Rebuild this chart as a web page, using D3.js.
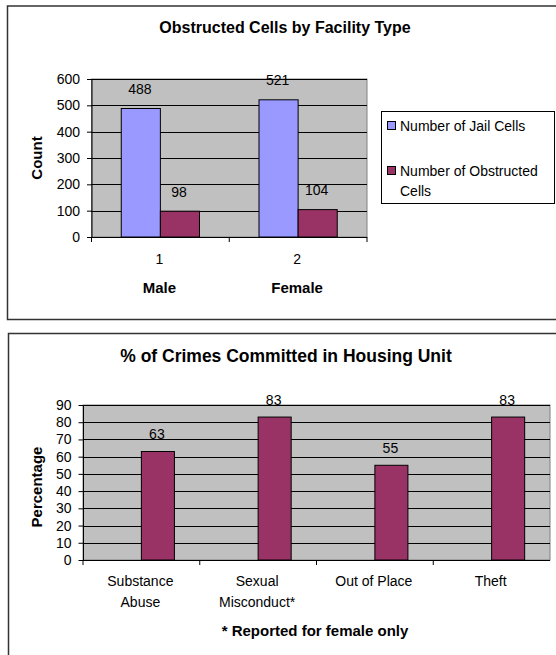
<!DOCTYPE html>
<head>
  <meta charset='utf-8'>
  <script src='https://d3js.org/d3.v7.min.js'></script>
  <style>
    body { margin: 0; background: #fff; }
    text { font-family: 'Liberation Sans', Arial, sans-serif; }
  </style>
</head>

<body>
  <script>

// top chart data
const facilities = ['1', '2'];
const facilityNames = ['Male', 'Female'];
const jailCells = [488, 521];
const obstructedCells = [98, 104];
const topSeries = ['Number of Jail Cells', 'Number of Obstructed Cells'];
const topTicks = [0, 100, 200, 300, 400, 500, 600];

// bottom chart data
const crimes = [['Substance', 'Abuse'], ['Sexual', 'Misconduct*'], ['Out of Place'], ['Theft']];
const crimePct = [63, 83, 55, 83];
const bottomTicks = [0, 10, 20, 30, 40, 50, 60, 70, 80, 90];

const blue = '#9999FF', maroon = '#993366', plotBg = '#C0C0C0';
const fs = 14;   // normal text size

const svg = d3.select('body').append('svg').attr('width', 556).attr('height', 655);

// panel frames
svg.append('rect').attr('x', 7.5).attr('y', 6).attr('width', 560).attr('height', 313.5)
  .attr('fill', 'none').attr('stroke', '#333').attr('stroke-width', 1.5);
svg.append('rect').attr('x', 8.5).attr('y', 333.5).attr('width', 560).attr('height', 340)
  .attr('fill', 'none').attr('stroke', '#333').attr('stroke-width', 1.5);

function plotFrame(g, x0, x1, y, ticks) {
  g.append('rect').attr('x', x0).attr('y', y.range()[1]).attr('width', x1 - x0)
    .attr('height', y.range()[0] - y.range()[1]).attr('fill', plotBg).attr('stroke', '#808080');
  g.selectAll('.grid').data(ticks.slice(1)).enter().append('line')
    .attr('x1', x0).attr('x2', x1).attr('y1', d => Math.round(y(d)) + .5).attr('y2', d => Math.round(y(d)) + .5)
    .attr('stroke', '#000');
  const ax = g.append('g').attr('transform', `translate(${x0 + .5},0)`)
    .call(d3.axisLeft(y).tickValues(ticks).tickSize(5).tickPadding(7));
  ax.select('.domain').attr('stroke', '#000').attr('d', `M0,${y.range()[1]}V${y.range()[0]}`);
  ax.selectAll('text').attr('font-size', fs).attr('fill', '#000')
    .style('font-family', "'Liberation Sans', Arial, sans-serif");
  ax.selectAll('.tick line').attr('stroke', '#000');
}

// ---------- top chart ----------
{
  const g = svg.append('g');
  const y = d3.scaleLinear().domain([0, 600]).range([237, 79]);
  const x = d3.scaleBand().domain(facilities).range([91.5, 367]);
  plotFrame(g, 91.5, 367, y, topTicks);

  const grp = facilities.map((f, i) => ({ f, vals: [jailCells[i], obstructedCells[i]] }));
  const bw = x.bandwidth() * 0.284;
  grp.forEach(d => {
    const cx = x(d.f) + x.bandwidth() / 2;
    d.vals.forEach((v, k) => {
      const bx = cx - bw + k * bw;
      g.append('rect').attr('x', bx).attr('y', y(v)).attr('width', bw).attr('height', y(0) - y(v))
        .attr('fill', k ? maroon : blue).attr('stroke', '#000');
      g.append('text').attr('x', bx + bw / 2 - 1).attr('y', y(v) - 14.5).attr('text-anchor', 'middle')
        .attr('font-size', fs).text(v);
    });
  });

  // x axis
  g.append('line').attr('x1', 91.5).attr('x2', 367).attr('y1', y(0) + .5).attr('y2', y(0) + .5).attr('stroke', '#000');
  [91.5, x('2'), 367].forEach(t => g.append('line').attr('x1', t).attr('x2', t)
    .attr('y1', y(0)).attr('y2', y(0) + 5).attr('stroke', '#000'));
  facilities.forEach((f, i) => {
    const cx = x(f) + x.bandwidth() / 2 - 1;
    g.append('text').attr('x', cx).attr('y', 264).attr('text-anchor', 'middle').attr('font-size', fs).text(f);
    g.append('text').attr('x', cx).attr('y', 293).attr('text-anchor', 'middle').attr('font-size', 15)
      .attr('font-weight', 'bold').text(facilityNames[i]);
  });

  g.append('text').attr('x', 285).attr('y', 33).attr('text-anchor', 'middle').attr('font-size', 16)
    .attr('font-weight', 'bold').text('Obstructed Cells by Facility Type');
  g.append('text').attr('transform', 'translate(42,158) rotate(-90)').attr('text-anchor', 'middle')
    .attr('font-size', 15).attr('font-weight', 'bold').text('Count');

  // legend
  g.append('rect').attr('x', 381.5).attr('y', 111.5).attr('width', 173).attr('height', 92)
    .attr('fill', '#fff').attr('stroke', '#000');
  const lg = g.selectAll('.lg').data(topSeries).enter().append('g')
    .attr('transform', (d, i) => `translate(387,${i ? 171 : 126})`);
  lg.append('rect').attr('x', .5).attr('y', -4.5).attr('width', 8).attr('height', 8)
    .attr('fill', (d, i) => i ? maroon : blue).attr('stroke', '#000');
  lg.append('text').attr('x', 13).attr('y', 5).attr('font-size', fs)
    .each(function (d) {
      const t = d3.select(this);
      const parts = d === 'Number of Obstructed Cells' ? ['Number of Obstructed', 'Cells'] : [d];
      parts.forEach((p, j) => t.append('tspan').attr('x', 13).attr('dy', j ? 20 : 0).text(p));
    });
}

// ---------- bottom chart ----------
{
  const g = svg.append('g');
  const y = d3.scaleLinear().domain([0, 90]).range([560, 405]);
  const x = d3.scaleBand().domain(crimes.map(c => c.join(' '))).range([83, 550]);
  plotFrame(g, 83, 550, y, bottomTicks);

  const bw = x.bandwidth() * 0.283;
  crimes.forEach((c, i) => {
    const cx = x(c.join(' ')) + x.bandwidth() / 2;
    const v = crimePct[i];
    g.append('rect').attr('x', cx).attr('y', y(v)).attr('width', bw).attr('height', y(0) - y(v))
      .attr('fill', maroon).attr('stroke', '#000');
    g.append('text').attr('x', cx + bw / 2 - 1).attr('y', y(v) - 12.5).attr('text-anchor', 'middle')
      .attr('font-size', fs).text(v);
    const t = g.append('text').attr('text-anchor', 'middle').attr('font-size', fs);
    c.forEach((p, j) => t.append('tspan').attr('x', cx - 1).attr('y', 586 + j * 21).text(p));
  });

  g.append('line').attr('x1', 83).attr('x2', 550).attr('y1', y(0) + .5).attr('y2', y(0) + .5).attr('stroke', '#000');
  crimes.forEach((c, i) => {
    const t = i === 0 ? 83 : x(c.join(' '));
    g.append('line').attr('x1', t).attr('x2', t).attr('y1', y(0)).attr('y2', y(0) + 5).attr('stroke', '#000');
  });

  g.append('text').attr('x', 286).attr('y', 362).attr('text-anchor', 'middle').attr('font-size', 17.5)
    .attr('font-weight', 'bold').text('% of Crimes Committed in Housing Unit');
  g.append('text').attr('transform', 'translate(42,487) rotate(-90)').attr('text-anchor', 'middle')
    .attr('font-size', 15).attr('font-weight', 'bold').text('Percentage');
  g.append('text').attr('x', 315).attr('y', 636).attr('text-anchor', 'middle').attr('font-size', 15)
    .attr('font-weight', 'bold').text('* Reported for female only');
}

  </script>
</body>
